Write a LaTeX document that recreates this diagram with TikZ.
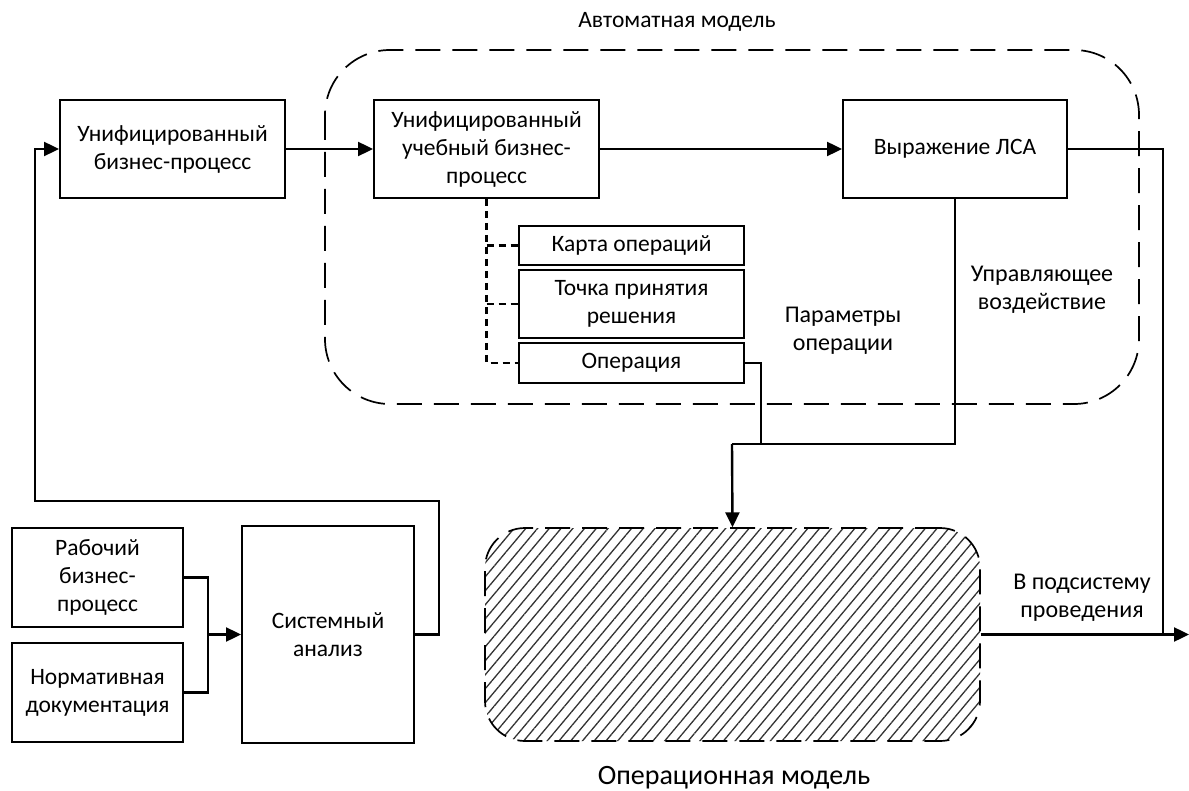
\documentclass[tikz,border=0pt]{standalone}
\usepackage{fontspec}
\setmainfont{Carlito}
\usetikzlibrary{arrows.meta,patterns.meta}
\begin{document}
\begin{tikzpicture}[x=1pt,y=-1pt,
  every node/.style={font=\fontsize{23.5pt}{28pt}\selectfont, align=center, inner sep=0pt},
  blk/.style={draw, line width=2pt, fill=white},
  conn/.style={line width=2.4pt},
  arr/.style={conn, -{Triangle[length=15pt,width=14pt]}},
  dotconn/.style={line width=2.2pt, dash pattern=on 7pt off 5pt},
  lbl/.style={font=\fontsize{24pt}{28pt}\selectfont}
]
\useasboundingbox (0,0) rectangle (1189,791);

% automaton model frame
\draw[line width=1.7pt, dash pattern=on 25pt off 12pt, rounded corners=65pt] (325,50) rectangle (1139,404);
\node (tA) at (677,22) {Автоматная модель};

% top boxes
\node[blk, minimum width=225pt, minimum height=98pt] (b1) at (172.5,149) {Унифицированный\\бизнес-процесс};
\node[blk, minimum width=225pt, minimum height=98pt] (b2) at (486.5,149) {Унифицированный\\учебный бизнес-\\процесс};
\node[blk, minimum width=224pt, minimum height=98pt] (b3) at (955,149) {Выражение ЛСА};

% sub boxes
\node[blk, minimum width=225pt, minimum height=39pt] (k1) at (631.5,245.5) {Карта операций};
\node[blk, minimum width=225pt, minimum height=68pt] (k2) at (631.5,304) {Точка принятия\\решения};
\node[blk, minimum width=225pt, minimum height=40pt] (k3) at (631.5,363) {Операция};

% labels
\node[lbl] (lp) at (843,331) {Параметры\\операции};
\node[lbl] (lu) at (1042,290) {Управляющее\\воздействие};
\node[lbl] (lv) at (1082,598) {В подсистему\\проведения};

% bottom-left
\node[blk, minimum width=171pt, minimum height=99pt] (r1) at (97.5,577.5) {Рабочий\\бизнес-\\процесс};
\node[blk, minimum width=171pt, minimum height=99pt] (r2) at (97.5,692.5) {Нормативная\\документация};
\node[blk, minimum width=172pt, minimum height=217pt] (sa) at (328,634.5) {Системный\\анализ};

% operational model
\node[draw, line width=1.7pt, dash pattern=on 25pt off 12pt, rounded corners=40pt,
      pattern={Lines[angle=50,distance=9pt,line width=1.3pt]}, pattern color=black!80,
      minimum width=495pt, minimum height=213pt] (om) at (732.5,634.5) {};
\node[font=\fontsize{28pt}{32pt}\selectfont] (tO) at (734,778) {Операционная модель};

% coordinates
\coordinate (jL) at (732,444);
\coordinate (jR) at (955,444);
\coordinate (fb1) at (439,501);
\coordinate (fb2) at (35,501);
\coordinate (m1) at (208,634.5);
\coordinate (out) at (1189,634.5);
\coordinate (rr) at (1163,634.5);

% connectors
\draw[arr] (b1.east) -- (b2.west);
\draw[arr] (b2.east) -- (b3.west);
\draw[dotconn] (b2.south) |- (k3.west);
\draw[dotconn] (b2.south |- k1.west) -- (k1.west);
\draw[dotconn] (b2.south |- k2.west) -- (k2.west);
\draw[conn] (k3.east) -- ++(16,0) |- (jL);
\draw[conn] (b3.south) |- (jL);
\draw[arr] (jL) -- (om.north);
\draw[conn] (b3.east) -| (rr);
\draw[arr] (om.east) -- (out);
\draw[arr] (sa.east) -| (fb1) -- (fb2) |- (b1.west);
\draw[conn] (r1.east) -| (m1);
\draw[conn] (r2.east) -| (m1);
\draw[arr] (m1) -- (sa.west);
\end{tikzpicture}
\end{document}
